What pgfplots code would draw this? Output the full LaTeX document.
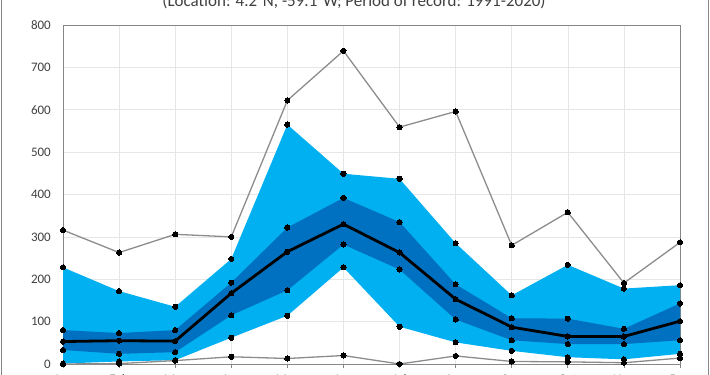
\documentclass[border=0pt]{standalone}
\usepackage{fontspec}
\setmainfont{Carlito}
\usepackage{pgfplots}
\pgfplotsset{compat=1.18}
\usepgfplotslibrary{fillbetween}
\definecolor{lblue}{HTML}{00B0F0}
\definecolor{dblue}{HTML}{0070C0}
\definecolor{gline}{HTML}{8C8C8C}
\definecolor{axgray}{HTML}{868686}
\definecolor{gridc}{HTML}{E6E6E6}
\begin{document}
\begin{tikzpicture}
\begin{axis}[
  at={(0pt,0pt)}, anchor=origin,
  scale only axis, width=617pt, height=339pt,
  xmin=1, xmax=12, ymin=0, ymax=800,
  xtick={1,...,12},
  xticklabels={Jan,Feb,Mar,Apr,May,Jun,Jul,Aug,Sep,Oct,Nov,Dec},
  ytick={0,100,...,800},
  grid=major, major grid style={gridc, line width=0.6pt},
  axis line style={axgray, line width=0.9pt},
  tick style={axgray, line width=0.8pt},
  xtick pos=bottom, ytick pos=left,
  xtick align=outside, ytick style={draw=none},
  major tick length=4pt,
  tick label style={font=\fontsize{13}{15}\selectfont, text=black!75},
  xticklabel style={anchor=north, inner sep=0pt, yshift=-6.5pt},
  yticklabel style={anchor=east, inner sep=0pt, xshift=-12pt},
  /pgf/number format/assume math mode=true,
  clip=false,
]
% data: month max p90 p75 med p25 p10 min
\addplot[draw=none, name path=p90, forget plot] coordinates {(1,228) (2,172) (3,135) (4,248) (5,565) (6,449) (7,437) (8,285) (9,162) (10,234) (11,178) (12,186)};
\addplot[draw=none, name path=p10, forget plot] coordinates {(1,1) (2,6) (3,9) (4,62) (5,114) (6,228) (7,88) (8,51) (9,31) (10,16) (11,11) (12,24)};
\addplot[draw=none, name path=p75, forget plot] coordinates {(1,80) (2,73) (3,80) (4,192) (5,322) (6,392) (7,335) (8,188) (9,108) (10,107) (11,83) (12,143)};
\addplot[draw=none, name path=p25, forget plot] coordinates {(1,33) (2,24) (3,28) (4,115) (5,174) (6,282) (7,223) (8,105) (9,56) (10,47) (11,47) (12,56)};
\addplot[lblue, draw=none] fill between[of=p90 and p10];
\addplot[dblue, draw=none] fill between[of=p75 and p25];
% max / min lines
\addplot[gline, line width=1.3pt, mark=*, mark size=2.6pt, mark options={fill=black, draw=black, line width=0pt}] coordinates {(1,316) (2,263) (3,306) (4,300) (5,622) (6,739) (7,559) (8,596) (9,280) (10,358) (11,191) (12,287)};
\addplot[gline, line width=1.3pt, mark=*, mark size=2.6pt, mark options={fill=black, draw=black, line width=0pt}] coordinates {(1,0) (2,1) (3,8) (4,17) (5,13) (6,20) (7,0) (8,19) (9,6) (10,5) (11,3) (12,14)};
% percentile markers
\addplot[only marks, mark=*, mark size=2.6pt, mark options={fill=black, draw=black, line width=0pt}] coordinates {(1,228) (2,172) (3,135) (4,248) (5,565) (6,449) (7,437) (8,285) (9,162) (10,234) (11,178) (12,186)};
\addplot[only marks, mark=*, mark size=2.6pt, mark options={fill=black, draw=black, line width=0pt}] coordinates {(1,1) (2,6) (3,9) (4,62) (5,114) (6,228) (7,88) (8,51) (9,31) (10,16) (11,11) (12,24)};
\addplot[only marks, mark=*, mark size=2.6pt, mark options={fill=black, draw=black, line width=0pt}] coordinates {(1,80) (2,73) (3,80) (4,192) (5,322) (6,392) (7,335) (8,188) (9,108) (10,107) (11,83) (12,143)};
\addplot[only marks, mark=*, mark size=2.6pt, mark options={fill=black, draw=black, line width=0pt}] coordinates {(1,33) (2,24) (3,28) (4,115) (5,174) (6,282) (7,223) (8,105) (9,56) (10,47) (11,47) (12,56)};
% median
\addplot[black, line width=2.8pt, mark=*, mark size=2.6pt, mark options={fill=black, draw=black, line width=0pt}] coordinates {(1,53) (2,55) (3,54) (4,167) (5,265) (6,330) (7,263) (8,153) (9,87) (10,65) (11,65) (12,101)};
\end{axis}
\draw[axgray, line width=0.9pt] (-62pt,-60pt) rectangle (645pt,420pt);
\node[anchor=base, font=\fontsize{17}{19}\selectfont, text=black!75] at (291pt,357pt) {(Location: 4.2°N, -59.1°W; Period of record: 1991-2020)};
\pgfresetboundingbox
\path[use as bounding box] (-63pt,-11pt) rectangle (647pt,364pt);
\end{tikzpicture}
\end{document}
